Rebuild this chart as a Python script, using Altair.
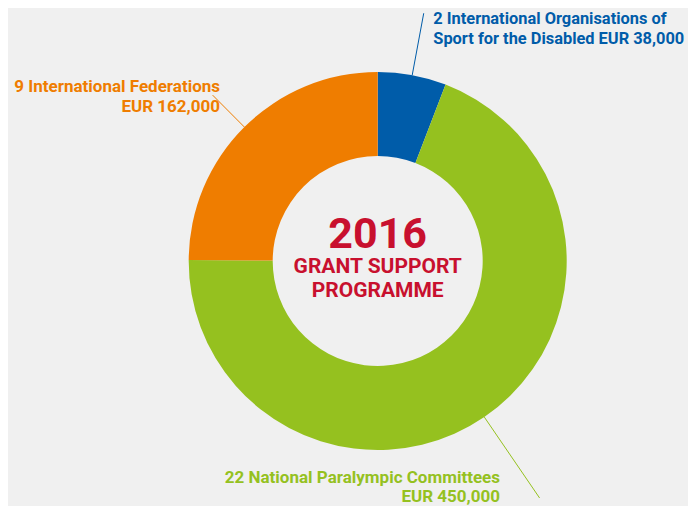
import math
import altair as alt
import pandas as pd

# ---- data -------------------------------------------------------------
groups = [
    "International Organisations of Sport for the Disabled",
    "National Paralympic Committees",
    "International Federations",
]
counts = [2, 22, 9]
amounts = [38000, 450000, 162000]
label_line1 = [
    "2 International Organisations of",
    "22 National Paralympic Committees",
    "9 International Federations",
]
label_line2 = [
    "Sport for the Disabled EUR 38,000",
    "EUR 450,000",
    "EUR 162,000",
]
center_lines = ["2016", "GRANT SUPPORT", "PROGRAMME"]

# ---- styles / layout ----------------------------------------------------
colors = ["#005CA9", "#95C11F", "#EF7D00"]
red = "#C8102E"
bg = "#F0F0F0"
W, H = 680, 498
CX, CY = 369.7, 253.0          # donut centre inside the plot area (px)
R_OUT, R_IN = 189, 105
leader_outer = [252, 287, 234]   # where each leader line stops (radius)
label_x = [55.6, 122.3, -157.7]  # label anchors relative to centre
label_y1 = [237.0, -221.5, 169.0]
label_size = [16.4, 17, 17]
line_gap = 19.5
label_align = ["left", "right", "right"]
center_y = [12.7, -11.7, -35.7]
center_size = [43, 21, 21]
FONT = "Roboto"

xscale = alt.Scale(domain=[-CX, W - CX], nice=False, zero=False)
yscale = alt.Scale(domain=[CY - H, CY], nice=False, zero=False)
cscale = alt.Scale(domain=groups, range=colors)

df = pd.DataFrame({
    "group": groups, "count": counts, "amount": amounts,
    "idx": list(range(len(groups))), "cx": 0.0, "cy": 0.0,
})

# leader lines start at the middle of each slice, pointing outwards
total = sum(amounts)
rows = []
cum = 0
for g, a, r2 in zip(groups, amounts, leader_outer):
    mid = (cum + a / 2) / total * 2 * math.pi
    cum += a
    rows.append({
        "group": g,
        "x1": R_OUT * math.sin(mid), "y1": R_OUT * math.cos(mid),
        "x2": r2 * math.sin(mid), "y2": r2 * math.cos(mid),
    })
lead = pd.DataFrame(rows)

lab_rows = []
for g, l1, l2, x, y, al, fs in zip(groups, label_line1, label_line2, label_x,
                                   label_y1, label_align, label_size):
    lab_rows.append({"group": g, "text": l1, "x": x, "y": y, "align": al, "fs": fs})
    lab_rows.append({"group": g, "text": l2, "x": x, "y": y - line_gap, "align": al, "fs": fs})
labels = pd.DataFrame(lab_rows)

center = pd.DataFrame({"text": center_lines, "x": 0.0, "y": center_y, "size": center_size})

X = lambda f: alt.X(f, type="quantitative", scale=xscale, axis=None)
Y = lambda f: alt.Y(f, type="quantitative", scale=yscale, axis=None)

donut = alt.Chart(df).mark_arc(innerRadius=R_IN, outerRadius=R_OUT).encode(
    theta=alt.Theta("amount:Q", stack=True),
    order=alt.Order("idx:Q"),
    color=alt.Color("group:N", scale=cscale, legend=None),
    x=X("cx"), y=Y("cy"),
)

disc = alt.Chart(pd.DataFrame({"v": [1], "cx": [0.0], "cy": [0.0]})).mark_arc(
    innerRadius=0, outerRadius=R_IN, color="white"
).encode(theta=alt.Theta("v:Q"), x=X("cx"), y=Y("cy"))

rules = alt.Chart(lead).mark_rule(strokeWidth=1).encode(
    x=X("x1"), y=Y("y1"), x2="x2", y2="y2",
    color=alt.Color("group:N", scale=cscale, legend=None),
)

def label_layer(al):
    return alt.Chart(labels).transform_filter(alt.datum.align == al).mark_text(
        align=al, baseline="alphabetic", font=FONT, fontWeight="bold"
    ).encode(
        x=X("x"), y=Y("y"), text="text:N",
        size=alt.Size("fs:Q", scale=None, legend=None),
        color=alt.Color("group:N", scale=cscale, legend=None),
    )

center_text = alt.Chart(center).mark_text(
    align="center", baseline="alphabetic", font=FONT, fontWeight="bold", color=red
).encode(
    x=X("x"), y=Y("y"), text="text:N",
    size=alt.Size("size:Q", scale=None, legend=None),
)

chart = alt.layer(
    donut, disc, rules, label_layer("left"), label_layer("right"), center_text
).properties(
    width=W, height=H, padding=0,
    autosize=alt.AutoSizeParams(type="none"),
    background=bg,
).configure_view(stroke=None)

chart.save("out.html", embed_options={"renderer": "svg", "actions": False})
